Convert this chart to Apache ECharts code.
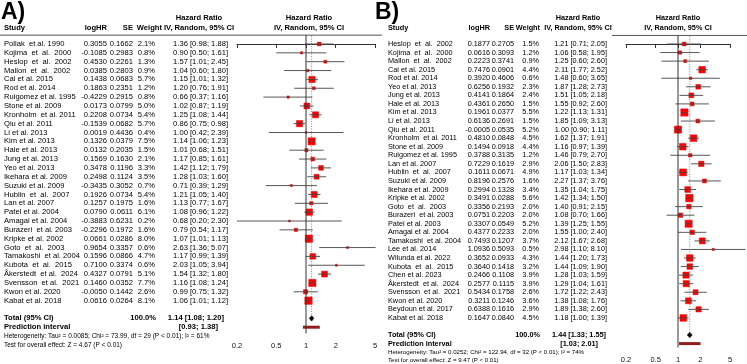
<!DOCTYPE html>
<html>
<head>
<meta charset="utf-8">
<script src="https://cdn.jsdelivr.net/npm/echarts@6/dist/echarts.min.js"></script>
<style>
html, body { margin: 0; padding: 0; background: #fff; }
#main { width: 747px; height: 364px; }
</style>
</head>
<body>
<div id="main"></div>
<script>
// ---- panel A data ----
var studyA = ['Pollak  et al. 1990', 'Kojima  et  al.  2000', 'Heslop  et  al.  2002', 'Mallon  et  al.  2002', 'Cai et al. 2015',
  'Rod et al. 2014', 'Ruigomez et al. 1995', 'Stone et al. 2009', 'Kronholm  et al. 2011', 'Qiu et al. 2011',
  'Li et al. 2013', 'Kim et al. 2013', 'Hale et al. 2013', 'Jung et al. 2013', 'Yeo et al. 2013',
  'Ikehara et al. 2009', 'Suzuki et al. 2009', 'Hublin  et  al.  2007', 'Lan et al. 2007', 'Patel et al. 2004',
  'Amagai et al. 2004', 'Burazeri  et al. 2003', 'Kripke et al. 2002', 'Goto  et  al.  2003', 'Tamakoshi  et al. 2004',
  'Kubota  et  al.  2015', 'Åkerstedt  et al.  2024', 'Svensson  et al.  2021', 'Kwon et al. 2020', 'Kabat et al. 2018'];
var logHrA = [0.3055, -0.1085, 0.4530, 0.0385, 0.1438, 0.1863, -0.4229, 0.0173, 0.2208, -0.1539,
  0.0019, 0.1326, 0.0132, 0.1569, 0.3478, 0.2498, -0.3435, 0.1926, 0.1257, 0.0790,
  -0.3883, -0.2296, 0.0661, 0.9654, 0.1596, 0.7100, 0.4327, 0.1460, -0.0050, 0.0616];
var seA = [0.1662, 0.2983, 0.2261, 0.2803, 0.0683, 0.2351, 0.2915, 0.0799, 0.0734, 0.0682,
  0.4436, 0.0379, 0.2035, 0.1630, 0.1196, 0.1124, 0.3052, 0.0734, 0.1975, 0.0611,
  0.6231, 0.1972, 0.0286, 0.3357, 0.0866, 0.3374, 0.0791, 0.0352, 0.1442, 0.0264];
var weightA = [2.1, 0.8, 1.3, 0.9, 5.7, 1.2, 0.8, 5.0, 5.4, 5.7,
  0.4, 7.5, 1.5, 2.1, 3.3, 3.5, 0.7, 5.4, 1.6, 6.1,
  0.2, 1.6, 8.0, 0.6, 4.7, 0.6, 5.1, 7.7, 2.6, 8.1];
var hrA = [1.36, 0.90, 1.57, 1.04, 1.15, 1.20, 0.66, 1.02, 1.25, 0.86,
  1.00, 1.14, 1.01, 1.17, 1.42, 1.28, 0.71, 1.21, 1.13, 1.08,
  0.68, 0.79, 1.07, 2.63, 1.17, 2.03, 1.54, 1.16, 0.99, 1.06];
var lowerA = [0.98, 0.50, 1.01, 0.60, 1.01, 0.76, 0.37, 0.87, 1.08, 0.75,
  0.42, 1.06, 0.68, 0.85, 1.12, 1.03, 0.39, 1.05, 0.77, 0.96,
  0.20, 0.54, 1.01, 1.36, 0.99, 1.05, 1.32, 1.08, 0.75, 1.01];
var upperA = [1.88, 1.61, 2.45, 1.80, 1.32, 1.91, 1.16, 1.19, 1.44, 0.98,
  2.39, 1.23, 1.51, 1.61, 1.79, 1.60, 1.29, 1.40, 1.67, 1.22,
  2.30, 1.17, 1.13, 5.07, 1.39, 3.94, 1.80, 1.24, 1.32, 1.12];
var totalA = [1.14, 1.08, 1.20];
var predA = [0.93, 1.38];
var hetA = 'Heterogeneity: Tau² = 0.0085; Chi² = 73.99, df = 29 (P < 0.01); I² = 61%';
var testA = 'Test for overall effect: Z = 4.67 (P < 0.01)';

// ---- panel B data ----
var studyB = ['Heslop  et  al.  2002', 'Kojima  et  al.  2000', 'Mallon  et  al.  2002', 'Cai et al. 2015', 'Rod et al. 2014',
  'Yeo et al. 2013', 'Jung et al. 2013', 'Hale et al. 2013', 'Kim et al. 2013', 'Li et al. 2013',
  'Qiu et al. 2011', 'Kronholm  et al. 2011', 'Stone et al. 2009', 'Ruigomez et al. 1995', 'Lan et al. 2007',
  'Hublin  et  al.  2007', 'Suzuki et al. 2009', 'Ikehara et al. 2009', 'Kripke et al. 2002', 'Goto  et  al.  2003',
  'Burazeri  et al. 2003', 'Patel et al. 2003', 'Amagai et al. 2004', 'Tamakoshi  et al. 2004', 'Lee et al. 2014',
  'Wilunda et al. 2022', 'Kubota  et  al.  2015', 'Chen et al. 2023', 'Åkerstedt  et al.  2024', 'Svensson  et al.  2021',
  'Kwon et al. 2020', 'Beydoun et al. 2017', 'Kabat et al. 2018'];
var logHrB = [0.1877, 0.0616, 0.2223, 0.7476, 0.3920, 0.6256, 0.4141, 0.4361, 0.1961, 0.6136,
  -0.0005, 0.4810, 0.1494, 0.3788, 0.7229, 0.1611, 0.8196, 0.2994, 0.3491, 0.3356,
  0.0751, 0.3307, 0.4377, 0.7493, 1.0936, 0.3652, 0.3640, 0.2466, 0.2577, 0.5434,
  0.3211, 0.6388, 0.1647];
var seB = [0.2705, 0.3093, 0.3741, 0.0901, 0.4606, 0.1932, 0.1864, 0.2650, 0.0377, 0.2691,
  0.0535, 0.0848, 0.0918, 0.3135, 0.1619, 0.0671, 0.2576, 0.1328, 0.0288, 0.2193,
  0.2203, 0.0549, 0.2233, 0.1207, 0.5093, 0.0933, 0.1418, 0.1108, 0.1115, 0.1758,
  0.1246, 0.1616, 0.0840];
var weightB = [1.5, 1.2, 0.9, 4.4, 0.6, 2.3, 2.4, 1.5, 5.5, 1.5,
  5.2, 4.5, 4.4, 1.2, 2.9, 4.9, 1.6, 3.4, 5.6, 2.0,
  2.0, 5.2, 2.0, 3.7, 0.5, 4.3, 3.2, 3.9, 3.9, 2.6,
  3.6, 2.9, 4.5];
var hrB = [1.21, 1.06, 1.25, 2.11, 1.48, 1.87, 1.51, 1.55, 1.22, 1.85,
  1.00, 1.62, 1.16, 1.46, 2.06, 1.17, 2.27, 1.35, 1.42, 1.40,
  1.08, 1.39, 1.55, 2.12, 2.98, 1.44, 1.44, 1.28, 1.29, 1.72,
  1.38, 1.89, 1.18];
var lowerB = [0.71, 0.58, 0.60, 1.77, 0.60, 1.28, 1.05, 0.92, 1.13, 1.09,
  0.90, 1.37, 0.97, 0.79, 1.50, 1.03, 1.37, 1.04, 1.34, 0.91,
  0.70, 1.25, 1.00, 1.67, 1.10, 1.20, 1.09, 1.03, 1.04, 1.22,
  1.08, 1.38, 1.00];
var upperB = [2.05, 1.95, 2.60, 2.52, 3.65, 2.73, 2.18, 2.60, 1.31, 3.13,
  1.11, 1.91, 1.39, 2.70, 2.83, 1.34, 3.76, 1.75, 1.50, 2.15,
  1.66, 1.55, 2.40, 2.68, 8.10, 1.73, 1.90, 1.59, 1.61, 2.43,
  1.76, 2.60, 1.39];
var totalB = [1.44, 1.33, 1.55];
var predB = [1.03, 2.01];
var hetB = 'Heterogeneity: Tau² = 0.0252; Chi² = 122.94, df = 32 (P < 0.01); I² = 74%';
var testB = 'Test for overall effect: Z = 9.47 (P < 0.01)';

var tickValues = [0.2, 0.5, 1, 2, 5];

// ---- layout ----
var FONT = '"Liberation Sans", Arial, Helvetica, sans-serif';
var layoutA = {
  label: 'A)', labelX: 1, left: 237, width: 138, firstRow: 44, rowH: 8.85, axisRow: 32.71,
  fs: 7.6, hfs: 7.6, smallFs: 6.5,
  colStudy: 4, colLog: 107, colSe: 133, colW: 155, colWHead: 162, colCi: 228, totalCi: 224, predCi: 218, ciCenter: 199,
  plotCenter: 309, lineX1: 0, lineX2: 382, maxSide: 7.4, maxW: 8.1
};
var layoutB = {
  label: 'B)', labelX: 375, left: 626, width: 104, firstRow: 44, rowH: 8.56, axisRow: 35.46,
  fs: 7.3, hfs: 7.3, smallFs: 6.1,
  colStudy: 388, colLog: 490, colSe: 514, colW: 539, colWHead: 540, colCi: 607, totalCi: 606, predCi: 598, ciCenter: 578,
  plotCenter: 678, lineX1: 612, lineX2: 747, maxSide: 7.4, maxW: 5.6
};

var panels = [
  { studies: studyA, logHr: logHrA, se: seA, weight: weightA, hr: hrA, lower: lowerA, upper: upperA,
    total: totalA, pred: predA, het: hetA, test: testA, lay: layoutA },
  { studies: studyB, logHr: logHrB, se: seB, weight: weightB, hr: hrB, lower: lowerB, upper: upperB,
    total: totalB, pred: predB, het: hetB, test: testB, lay: layoutB }
];

function ci(h, l, u) {
  return h.toFixed(2) + ' [' + l.toFixed(2) + '; ' + u.toFixed(2) + ']';
}
function font(size, bold) {
  return (bold ? 'bold ' : '') + size + 'px ' + FONT;
}

var grids = [], xAxes = [], yAxes = [], series = [], graphics = [];

panels.forEach(function (p, gi) {
  var L = p.lay;
  var n = p.studies.length;
  var top = L.firstRow - L.rowH;

  grids.push({ left: L.left, top: top, width: L.width, height: (L.axisRow + 1) * L.rowH,
    containLabel: false, outerBoundsMode: 'none' });
  xAxes.push({
    type: 'log', logBase: 10, gridIndex: gi, min: 0.2, max: 5,
    axisLine: { show: true, lineStyle: { color: '#333', width: 1 } },
    axisTick: { show: true, customValues: tickValues, length: 4, lineStyle: { color: '#333', width: 1 } },
    axisLabel: { customValues: tickValues, margin: 8, fontSize: 7.5, fontFamily: FONT, color: '#111',
      showMinLabel: true, showMaxLabel: true, hideOverlap: false,
      formatter: function (v) { return String(+(+v).toPrecision(3)); } },
    splitLine: { show: false }, minorTick: { show: false }, minorSplitLine: { show: false }
  });
  yAxes.push({ type: 'value', gridIndex: gi, min: -1, max: L.axisRow, inverse: true, show: false });

  // no-effect line
  series.push({ type: 'line', xAxisIndex: gi, yAxisIndex: gi, symbol: 'none', silent: true,
    data: [[1, -1], [1, L.axisRow]], lineStyle: { color: '#333', width: 1 } });
  // pooled estimate line
  series.push({ type: 'line', xAxisIndex: gi, yAxisIndex: gi, symbol: 'none', silent: true,
    data: [[p.total[0], -0.9], [p.total[0], n + 1]],
    lineStyle: { color: '#666', width: 0.8, type: [1, 1.5] } });

  // study squares and CIs
  series.push({
    type: 'custom', xAxisIndex: gi, yAxisIndex: gi, clip: false, silent: true,
    data: p.hr.map(function (h, i) { return [h, p.lower[i], p.upper[i], i, p.weight[i]]; }),
    renderItem: function (params, api) {
      var row = api.value(3);
      var c = api.coord([api.value(0), row]);
      var l = api.coord([api.value(1), row]);
      var u = api.coord([api.value(2), row]);
      var side = Math.max(1.8, L.maxSide * Math.sqrt(api.value(4) / L.maxW));
      return { type: 'group', children: [
        { type: 'rect', shape: { x: c[0] - side / 2, y: c[1] - side / 2, width: side, height: side },
          style: { fill: '#ff0000', stroke: '#e60000', lineWidth: 0.5 } },
        { type: 'line', shape: { x1: l[0], y1: c[1], x2: u[0], y2: c[1] },
          style: { stroke: '#444', lineWidth: 0.9 } }
      ] };
    }
  });

  // pooled diamond
  series.push({
    type: 'custom', xAxisIndex: gi, yAxisIndex: gi, clip: false, silent: true,
    data: [[p.total[0], p.total[1], p.total[2], n + 1]],
    renderItem: function (params, api) {
      var row = api.value(3);
      var c = api.coord([api.value(0), row]);
      var l = api.coord([api.value(1), row]);
      var u = api.coord([api.value(2), row]);
      return { type: 'polygon',
        shape: { points: [[l[0], c[1]], [c[0], c[1] - 2.8], [u[0], c[1]], [c[0], c[1] + 2.8]] },
        style: { fill: '#000', stroke: '#000', lineWidth: 0.5 } };
    }
  });

  // prediction interval
  series.push({
    type: 'custom', xAxisIndex: gi, yAxisIndex: gi, clip: false, silent: true,
    data: [[p.pred[0], p.pred[1], n + 2]],
    renderItem: function (params, api) {
      var row = api.value(2);
      var l = api.coord([api.value(0), row]);
      var u = api.coord([api.value(1), row]);
      return { type: 'rect', shape: { x: l[0], y: l[1] - 1.5, width: u[0] - l[0], height: 3 },
        style: { fill: '#951b1b' } };
    }
  });

  // table text, one entry per row
  var rows = p.studies.map(function (s, i) {
    return { row: i, cells: [
      { x: L.colStudy, text: s, align: 'left' },
      { x: L.colLog, text: p.logHr[i].toFixed(4), align: 'right' },
      { x: L.colSe, text: p.se[i].toFixed(4), align: 'right' },
      { x: L.colW, text: p.weight[i].toFixed(1) + '%', align: 'right' },
      { x: L.colCi, text: ci(p.hr[i], p.lower[i], p.upper[i]), align: 'right' }
    ] };
  });
  rows.push({ row: n + 1, cells: [
    { x: L.colStudy, text: 'Total (95% CI)', align: 'left', bold: true },
    { x: L.colW + 1, text: '100.0%', align: 'right', bold: true },
    { x: L.totalCi, text: ci(p.total[0], p.total[1], p.total[2]), align: 'right', bold: true }
  ] });
  rows.push({ row: n + 2, cells: [
    { x: L.colStudy, text: 'Prediction interval', align: 'left', bold: true },
    { x: L.predCi, text: '[' + p.pred[0].toFixed(2) + '; ' + p.pred[1].toFixed(2) + ']', align: 'right', bold: true }
  ] });
  rows.push({ row: n + 3, cells: [{ x: L.colStudy, text: p.het, align: 'left', small: true }] });
  rows.push({ row: n + 4, cells: [{ x: L.colStudy, text: p.test, align: 'left', small: true }] });

  series.push({
    type: 'custom', xAxisIndex: gi, yAxisIndex: gi, clip: false, silent: true,
    data: rows.map(function (r) { return [1, r.row]; }),
    renderItem: function (params, api) {
      var r = rows[params.dataIndex];
      var y = api.coord([1, api.value(1)])[1];
      return { type: 'group', children: r.cells.map(function (c) {
        return { type: 'text', style: { x: c.x, y: y, text: c.text, align: c.align, verticalAlign: 'middle',
          font: font(c.small ? L.smallFs : L.fs, c.bold), fill: '#000' } };
      }) };
    }
  });

  // headers
  graphics.push({ type: 'text', left: L.labelX, top: 1, style: { text: L.label, font: font(23, true), fill: '#000' } });
  graphics.push({ type: 'line', shape: { x1: L.lineX1, y1: top, x2: L.lineX2, y2: top },
    style: { stroke: '#555', lineWidth: 1 } });
  var hy = 28, hy0 = 18;
  [
    { x: L.colStudy, y: hy, text: 'Study', align: 'left' },
    { x: L.colLog, y: hy, text: 'logHR', align: 'right' },
    { x: L.colSe, y: hy, text: 'SE', align: 'right' },
    { x: L.colWHead, y: hy, text: 'Weight', align: 'right' },
    { x: L.ciCenter, y: hy0, text: 'Hazard Ratio', align: 'center' },
    { x: L.ciCenter, y: hy, text: 'IV, Random, 95% CI', align: 'center' },
    { x: L.plotCenter, y: hy0, text: 'Hazard Ratio', align: 'center' },
    { x: L.plotCenter, y: hy, text: 'IV, Random, 95% CI', align: 'center' }
  ].forEach(function (h) {
    graphics.push({ type: 'text', style: { x: h.x, y: h.y, text: h.text, align: h.align, verticalAlign: 'middle',
      font: font(L.hfs, true), fill: '#000' } });
  });
});

var myChart = echarts.init(document.getElementById('main'), null, { renderer: 'canvas' });
myChart.setOption({
  animation: false,
  backgroundColor: '#fff',
  grid: grids,
  xAxis: xAxes,
  yAxis: yAxes,
  series: series,
  graphic: graphics
});
</script>
</body>
</html>
